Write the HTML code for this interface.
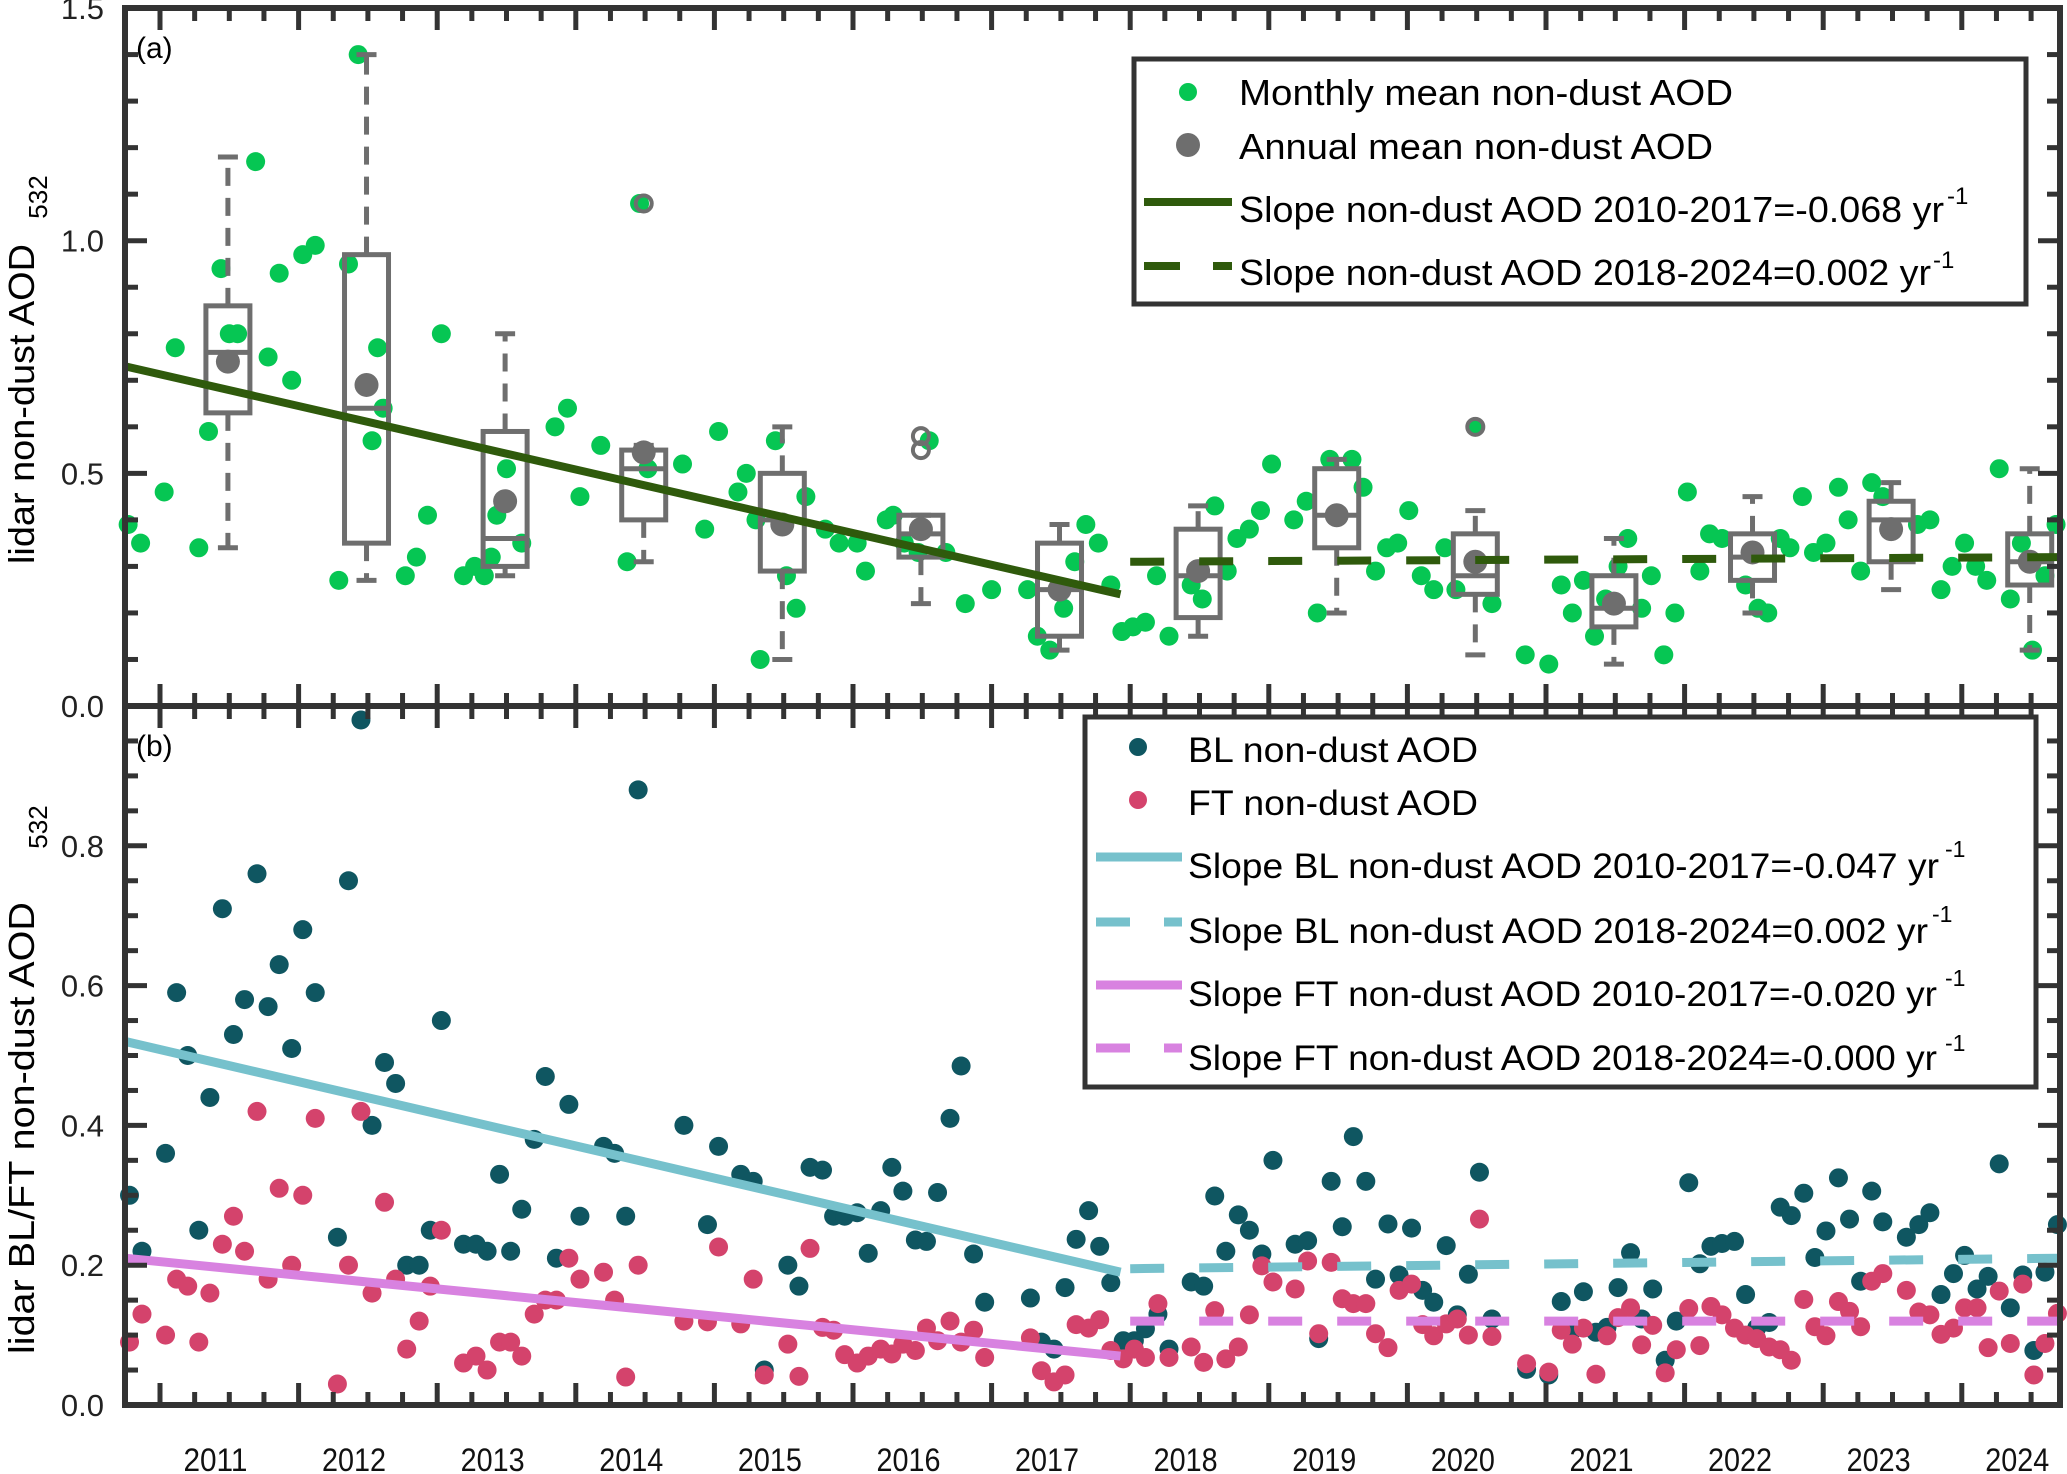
<!DOCTYPE html>
<html><head><meta charset="utf-8">
<style>
html,body{margin:0;padding:0;background:#fff;}
svg{display:block;font-family:"Liberation Sans",sans-serif;}
</style></head>
<body>
<svg id="chart" width="2067" height="1474" viewBox="0 0 2067 1474" xmlns="http://www.w3.org/2000/svg">
<rect x="0" y="0" width="2067" height="1474" fill="#fff"/>
<g id="plotA"></g>
<g id="plotB"></g>
<g id="axes"></g>

<text x="136" y="58" font-size="30">(a)</text>
<text x="136" y="756" font-size="30">(b)</text>

<g>
<text transform="translate(34,404) rotate(-90)" font-size="36" textLength="320" lengthAdjust="spacingAndGlyphs" text-anchor="middle">lidar non-dust AOD</text>
<text transform="translate(47,197) rotate(-90)" font-size="26" text-anchor="middle">532</text>
</g>
<g>
<text transform="translate(34,1128) rotate(-90)" font-size="36" textLength="452" lengthAdjust="spacingAndGlyphs" text-anchor="middle">lidar BL/FT non-dust AOD</text>
<text transform="translate(47,827) rotate(-90)" font-size="26" text-anchor="middle">532</text>
</g>

<g>
<rect x="1134" y="59" width="892" height="245" fill="#fff" stroke="#333" stroke-width="5"/>
<g>
<circle cx="1188" cy="92" r="9" fill="#06c653"/>
<text x="1239" y="105" font-size="36" textLength="494" lengthAdjust="spacingAndGlyphs">Monthly mean non-dust AOD</text></g>
<g>
<circle cx="1188" cy="145" r="12" fill="#6e6e6e"/>
<text x="1239" y="159" font-size="36" textLength="474" lengthAdjust="spacingAndGlyphs">Annual mean non-dust AOD</text></g>
<g>
<line x1="1144" y1="202" x2="1232" y2="202" stroke="#2f5a0c" stroke-width="8"/>
<text x="1239" y="222" font-size="36" textLength="705" lengthAdjust="spacingAndGlyphs">Slope non-dust AOD 2010-2017=-0.068 yr</text>
<text x="1947" y="204" font-size="24">-1</text></g>
<g>
<line x1="1144" y1="266" x2="1180" y2="266" stroke="#2f5a0c" stroke-width="8"/>
<line x1="1213" y1="266" x2="1232" y2="266" stroke="#2f5a0c" stroke-width="8"/>
<text x="1239" y="285" font-size="36" textLength="692" lengthAdjust="spacingAndGlyphs">Slope non-dust AOD 2018-2024=0.002 yr</text>
<text x="1933" y="268" font-size="24">-1</text></g>
</g>

<g>
<rect x="1085" y="717" width="951" height="370" fill="#fff" stroke="#333" stroke-width="5"/>
<g>
<circle cx="1138" cy="747" r="9" fill="#0f5661"/>
<text x="1188" y="762" font-size="35" textLength="290" lengthAdjust="spacingAndGlyphs">BL non-dust AOD</text></g>
<g>
<circle cx="1138" cy="800" r="9" fill="#d4436c"/>
<text x="1188" y="815" font-size="35" textLength="290" lengthAdjust="spacingAndGlyphs">FT non-dust AOD</text></g>
<g>
<line x1="1096" y1="857" x2="1182" y2="857" stroke="#76c1cc" stroke-width="9"/>
<text x="1188" y="878" font-size="35" textLength="751" lengthAdjust="spacingAndGlyphs">Slope BL non-dust AOD 2010-2017=-0.047 yr</text>
<text x="1945" y="857" font-size="23">-1</text></g>
<g>
<line x1="1096" y1="922" x2="1130" y2="922" stroke="#76c1cc" stroke-width="9"/>
<line x1="1164" y1="922" x2="1182" y2="922" stroke="#76c1cc" stroke-width="9"/>
<text x="1188" y="943" font-size="35" textLength="740" lengthAdjust="spacingAndGlyphs">Slope BL non-dust AOD 2018-2024=0.002 yr</text>
<text x="1932" y="922" font-size="23">-1</text></g>
<g>
<line x1="1096" y1="985" x2="1182" y2="985" stroke="#d882e0" stroke-width="9"/>
<text x="1188" y="1006" font-size="35" textLength="749" lengthAdjust="spacingAndGlyphs">Slope FT non-dust AOD 2010-2017=-0.020 yr</text>
<text x="1945" y="986" font-size="23">-1</text></g>
<g>
<line x1="1096" y1="1048" x2="1130" y2="1048" stroke="#d882e0" stroke-width="9"/>
<line x1="1164" y1="1048" x2="1182" y2="1048" stroke="#d882e0" stroke-width="9"/>
<text x="1188" y="1070" font-size="35" textLength="749" lengthAdjust="spacingAndGlyphs">Slope FT non-dust AOD 2018-2024=-0.000 yr</text>
<text x="1945" y="1051" font-size="23">-1</text></g>
</g>
</svg>
<script>
// ---- Panel (a) monthly mean non-dust AOD ----
const monthlyT = [2010.77,2010.86,2011.03,2011.11,2011.28,2011.35,2011.44,2011.50,2011.56,2011.69,2011.78,2011.86,2011.95,2012.03,2012.12,2012.29,2012.36,2012.43,2012.53,2012.57,2012.61,2012.77,2012.85,2012.93,2013.03,2013.19,2013.27,2013.34,2013.39,2013.43,2013.50,2013.61,2013.85,2013.94,2014.03,2014.18,2014.37,2014.46,2014.52,2014.77,2014.93,2015.03,2015.17,2015.23,2015.30,2015.33,2015.44,2015.52,2015.59,2015.66,2015.80,2015.90,2016.03,2016.09,2016.24,2016.29,2016.37,2016.47,2016.55,2016.67,2016.81,2017.00,2017.26,2017.33,2017.42,2017.52,2017.60,
2017.68,2017.77,2017.86,2017.94,2018.02,2018.11,2018.19,2018.28,2018.44,2018.52,2018.61,2018.70,2018.77,2018.86,2018.94,2019.02,2019.18,2019.27,2019.35,2019.44,2019.60,2019.68,2019.77,2019.85,2019.93,2020.01,2020.10,2020.19,2020.27,2020.35,2020.49,2020.61,2020.85,2021.02,2021.11,2021.19,2021.27,2021.35,2021.43,2021.52,2021.59,2021.69,2021.76,2021.85,2021.93,2022.02,2022.11,2022.18,2022.27,2022.44,2022.53,2022.60,2022.69,2022.76,2022.85,2022.93,2023.02,2023.11,2023.18,2023.27,2023.35,2023.43,2023.68,2023.77,2023.85,2023.93,2024.02,2024.10,2024.18,2024.27,2024.35,2024.43,2024.51,2024.60,2024.68];
const monthlyV = [0.39,0.35,0.46,0.77,0.34,0.59,0.94,0.80,0.80,1.17,0.75,0.93,0.70,0.97,0.99,0.27,0.95,1.40,0.57,0.77,0.64,0.28,0.32,0.41,0.80,0.28,0.30,0.28,0.32,0.41,0.51,0.35,0.60,0.64,0.45,0.56,0.31,1.08,0.51,0.52,0.38,0.59,0.46,0.50,0.40,0.10,0.57,0.28,0.21,0.45,0.38,0.35,0.35,0.29,0.40,0.41,0.35,0.33,0.57,0.33,0.22,0.25,0.25,0.15,0.12,0.21,0.31,
0.39,0.35,0.26,0.16,0.17,0.18,0.28,0.15,0.26,0.23,0.43,0.29,0.36,0.38,0.42,0.52,0.40,0.44,0.20,0.53,0.53,0.47,0.29,0.34,0.35,0.42,0.28,0.25,0.34,0.25,0.60,0.22,0.11,0.09,0.26,0.20,0.27,0.15,0.23,0.30,0.36,0.21,0.28,0.11,0.20,0.46,0.29,0.37,0.36,0.26,0.21,0.20,0.36,0.34,0.45,0.33,0.35,0.47,0.40,0.29,0.48,0.45,0.39,0.40,0.25,0.30,0.35,0.30,0.27,0.51,0.23,0.35,0.12,0.28,0.39];

// ---- Panel (a) annual box statistics ----
const boxYears = [2011,2012,2013,2014,2015,2016,2017,2018,2019,2020,2021,2022,2023,2024];
const boxLo   = [0.34,0.27,0.28,0.31,0.10,0.22,0.12,0.15,0.20,0.11,0.09,0.20,0.25,0.12];
const boxQ1   = [0.63,0.35,0.30,0.40,0.29,0.32,0.15,0.19,0.34,0.24,0.17,0.27,0.31,0.26];
const boxMed  = [0.76,0.64,0.36,0.51,0.40,0.37,0.25,0.28,0.41,0.28,0.21,0.32,0.40,0.31];
const boxQ3   = [0.86,0.97,0.59,0.55,0.50,0.41,0.35,0.38,0.51,0.37,0.28,0.37,0.44,0.37];
const boxHi   = [1.18,1.40,0.80,0.56,0.60,0.41,0.39,0.43,0.53,0.42,0.36,0.45,0.48,0.51];
const boxMean = [0.74,0.69,0.44,0.545,0.39,0.38,0.25,0.29,0.41,0.31,0.22,0.33,0.38,0.31];
const outlierT = [2014.49,2016.49,2016.49,2020.49];
const outlierV = [1.08,0.58,0.55,0.60];

// ---- Trend lines ----
const trendAT = [2010.75,2017.93];  const trendAV = [0.73,0.24];
const trendA2T = [2018.0,2024.7];   const trendA2V = [0.31,0.32];
const trendBLT = [2010.75,2017.93]; const trendBLV = [0.52,0.19];
const trendBL2T = [2018.0,2024.7];  const trendBL2V = [0.195,0.21];
const trendFTT = [2010.75,2017.93]; const trendFTV = [0.21,0.07];
const trendFT2T = [2018.0,2024.7];  const trendFT2V = [0.12,0.12];

// ---- Panel (b) BL / FT ----
const blT = [2010.78,2010.87,2011.04,2011.12,2011.20,2011.28,2011.36,2011.45,2011.53,2011.61,2011.70,2011.78,2011.86,2011.95,2012.03,2012.12,2012.28,2012.36,2012.45,2012.53,2012.62,2012.70,2012.78,2012.87,2012.95,2013.03,2013.19,2013.28,2013.36,2013.45,2013.53,2013.61,2013.70,2013.78,2013.86,2013.95,2014.03,2014.20,2014.28,2014.36,2014.45,2014.78,
2014.95,2015.03,2015.19,2015.28,2015.36,2015.53,2015.61,2015.69,2015.78,2015.86,2015.94,2016.03,2016.11,2016.20,2016.28,2016.36,2016.45,2016.53,2016.61,2016.70,2016.78,2016.87,2016.95,2017.28,2017.36,2017.45,2017.53,2017.61,2017.70,2017.78,2017.86,2017.95,2018.03,2018.11,2018.20,2018.28,2018.44,2018.53,2018.61,2018.69,2018.78,2018.86,2018.95,2019.03,2019.19,2019.28,2019.36,2019.45,2019.53,2019.61,2019.70,2019.77,
2019.86,2019.94,2020.03,2020.11,2020.19,2020.28,2020.36,2020.44,2020.52,2020.61,2020.86,2021.02,2021.11,2021.19,2021.27,2021.36,2021.44,2021.52,2021.61,2021.69,2021.77,2021.86,2021.94,2022.03,2022.11,2022.19,2022.27,2022.36,2022.44,2022.52,2022.61,2022.69,2022.77,2022.86,2022.94,2023.02,2023.11,2023.19,2023.27,2023.35,2023.43,2023.60,2023.69,2023.77,2023.85,2023.94,2024.02,2024.11,2024.19,2024.27,2024.35,2024.44,2024.52,2024.60,2024.69];
const blV = [0.30,0.22,0.36,0.59,0.50,0.25,0.44,0.71,0.53,0.58,0.76,0.57,0.63,0.51,0.68,0.59,0.24,0.75,0.98,0.40,0.49,0.46,0.20,0.20,0.25,0.55,0.23,0.23,0.22,0.33,0.22,0.28,0.38,0.47,0.21,0.43,0.27,0.37,0.36,0.27,0.88,0.40,
0.258,0.37,0.33,0.32,0.05,0.20,0.17,0.34,0.336,0.27,0.27,0.275,0.217,0.278,0.34,0.306,0.236,0.234,0.304,0.41,0.485,0.216,0.147,0.153,0.09,0.08,0.168,0.237,0.278,0.227,0.175,0.092,0.092,0.109,0.13,0.08,0.176,0.17,0.299,0.22,0.272,0.25,0.216,0.35,0.23,0.235,0.095,0.32,0.255,0.384,0.32,0.18,
0.259,0.186,0.253,0.164,0.147,0.228,0.129,0.187,0.333,0.123,0.051,0.043,0.148,0.107,0.162,0.104,0.111,0.168,0.218,0.123,0.166,0.064,0.12,0.318,0.202,0.227,0.231,0.234,0.158,0.110,0.118,0.283,0.271,0.303,0.211,0.249,0.325,0.266,0.177,0.306,0.262,0.24,0.258,0.275,0.158,0.188,0.214,0.166,0.184,0.345,0.139,0.186,0.078,0.19,0.258];
const ftT = blT;
const ftV = [0.09,0.13,0.10,0.18,0.17,0.09,0.16,0.23,0.27,0.22,0.42,0.18,0.31,0.20,0.30,0.41,0.03,0.20,0.42,0.16,0.29,0.18,0.08,0.12,0.17,0.25,0.06,0.07,0.05,0.09,0.09,0.07,0.13,0.15,0.15,0.21,0.18,0.19,0.15,0.04,0.20,0.12,
0.119,0.226,0.116,0.18,0.043,0.087,0.041,0.224,0.111,0.107,0.072,0.06,0.07,0.08,0.073,0.087,0.078,0.11,0.092,0.12,0.09,0.107,0.068,0.096,0.049,0.033,0.043,0.115,0.11,0.122,0.078,0.066,0.08,0.068,0.145,0.068,0.083,0.061,0.135,0.066,0.083,0.129,0.199,0.176,0.166,0.206,0.102,0.204,0.152,0.145,0.145,0.102,
0.082,0.164,0.173,0.115,0.099,0.116,0.123,0.10,0.266,0.098,0.059,0.047,0.107,0.087,0.11,0.044,0.099,0.125,0.139,0.086,0.114,0.046,0.079,0.138,0.085,0.141,0.129,0.11,0.10,0.095,0.083,0.079,0.064,0.151,0.112,0.099,0.148,0.134,0.112,0.177,0.188,0.164,0.133,0.129,0.101,0.11,0.139,0.139,0.082,0.163,0.088,0.173,0.043,0.088,0.131];

// ---- Axis ticks ----
const yTicksA = ["0.0","0.5","1.0","1.5"];
const yTicksB = ["0.0","0.2","0.4","0.6","0.8"];
const xYears = [2011,2012,2013,2014,2015,2016,2017,2018,2019,2020,2021,2022,2023,2024];

const NS = "http://www.w3.org/2000/svg";
const L = 125, R = 2060, TA = 8, BA = 706, TB = 706, BB = 1405;
const xS = t => 160 + (t - 2011) * 138.6;
const yA = v => BA - v * 465.3;
const yB = v => BB - v * 699;
function mk(tag, attrs, parent){ const e=document.createElementNS(NS,tag); for(const k in attrs) e.setAttribute(k,attrs[k]); parent.appendChild(e); return e; }
const gA = document.getElementById('plotA'), gB = document.getElementById('plotB'), gX = document.getElementById('axes');

// panel a monthly dots
monthlyT.forEach((t,i)=>{
  const c = mk('circle',{cx:xS(t),cy:yA(monthlyV[i]),r:9.5,fill:'#06c653'},gA);
  
  
});
// boxes
const gray = '#6e6e6e';
boxYears.forEach((yr,i)=>{
  const cx = xS(yr+0.49), hw = 22, cw = 10;
  const g = mk('g',{},gA);
  
  
  mk('line',{x1:cx,x2:cx,y1:yA(boxQ3[i]),y2:yA(boxHi[i]),stroke:gray,'stroke-width':5,'stroke-dasharray':'18 12'},g);
  mk('line',{x1:cx,x2:cx,y1:yA(boxQ1[i]),y2:yA(boxLo[i]),stroke:gray,'stroke-width':5,'stroke-dasharray':'18 12'},g);
  mk('line',{x1:cx-cw,x2:cx+cw,y1:yA(boxHi[i]),y2:yA(boxHi[i]),stroke:gray,'stroke-width':5},g);
  mk('line',{x1:cx-cw,x2:cx+cw,y1:yA(boxLo[i]),y2:yA(boxLo[i]),stroke:gray,'stroke-width':5},g);
  mk('rect',{x:cx-hw,y:yA(boxQ3[i]),width:2*hw,height:yA(boxQ1[i])-yA(boxQ3[i]),fill:'none',stroke:gray,'stroke-width':5},g);
  mk('line',{x1:cx-hw,x2:cx+hw,y1:yA(boxMed[i]),y2:yA(boxMed[i]),stroke:gray,'stroke-width':5},g);
  const m = mk('circle',{cx:cx,cy:yA(boxMean[i]),r:12,fill:gray},g);
  
  
});
outlierT.forEach((t,i)=>{
  const o = mk('circle',{cx:xS(t),cy:yA(outlierV[i]),r:8,fill:'none',stroke:gray,'stroke-width':4},gA);
  
  
});
function trend(g, T, V, ys, color, w, dashed, name){
  const l = mk('line',{x1:xS(T[0]),y1:ys(V[0]),x2:xS(T[1]),y2:ys(V[1]),stroke:color,'stroke-width':w},g);
  if(dashed) l.setAttribute('stroke-dasharray','34 35');
  
  
}
trend(gA,trendAT,trendAV,yA,'#2f5a0c',8,false,'trend-2010-2017');
trend(gA,trendA2T,trendA2V,yA,'#2f5a0c',8,true,'trend-2018-2024');

// panel b
blT.forEach((t,i)=>{
  const c = mk('circle',{cx:xS(t),cy:yB(blV[i]),r:9.5,fill:'#0f5661'},gB);
  
  
});
ftT.forEach((t,i)=>{
  const c = mk('circle',{cx:xS(t),cy:yB(ftV[i]),r:9.5,fill:'#d4436c'},gB);
  
  
});
trend(gB,trendBLT,trendBLV,yB,'#76c1cc',9,false,'bl-trend-2010-2017');
trend(gB,trendBL2T,trendBL2V,yB,'#76c1cc',9,true,'bl-trend-2018-2024');
trend(gB,trendFTT,trendFTV,yB,'#d882e0',9,false,'ft-trend-2010-2017');
trend(gB,trendFT2T,trendFT2V,yB,'#d882e0',9,true,'ft-trend-2018-2024');

// axes frames
const ax = '#333';
[[TA,BA],[TB,BB]].forEach(([t,b],k)=>{
  const r = mk('rect',{x:L,y:t,width:R-L,height:b-t,fill:'none',stroke:ax,'stroke-width':6},gX);
  
  
});
// x ticks
for(let q=0;q<=56;q++){
  const t = 2010.75 + q*0.25; const x = xS(t);
  if(x < L+2 || x > R-2) continue;
  const major = Math.abs(t-Math.round(t))<1e-6; const len = major?22:13;
  [[TA,1],[BA,-1],[TB,1],[BB,-1]].forEach(([y0,d])=>mk('line',{x1:x,x2:x,y1:y0,y2:y0+d*len,stroke:ax,'stroke-width':5},gX));
}
// y ticks
for(let k=0;k<=15;k++){ const v=k*0.1, y=yA(v), len=(k%5===0)?22:13;
  mk('line',{x1:L,x2:L+len,y1:y,y2:y,stroke:ax,'stroke-width':5},gX);
  mk('line',{x1:R,x2:R-len,y1:y,y2:y,stroke:ax,'stroke-width':5},gX); }
for(let k=0;k<=20;k++){ const v=k*0.05, y=yB(v), len=(k%4===0)?22:13;
  mk('line',{x1:L,x2:L+len,y1:y,y2:y,stroke:ax,'stroke-width':5},gX);
  mk('line',{x1:R,x2:R-len,y1:y,y2:y,stroke:ax,'stroke-width':5},gX); }
// tick labels
yTicksA.forEach(s=>{ const t=mk('text',{x:104,y:yA(parseFloat(s))+11,'font-size':31,'text-anchor':'end',fill:'#222'},gX); t.textContent=s;
  
   });
yTicksB.forEach(s=>{ const t=mk('text',{x:104,y:yB(parseFloat(s))+11,'font-size':31,'text-anchor':'end',fill:'#222'},gX); t.textContent=s;
  
   });
xYears.forEach(yr=>{ const t=mk('text',{x:xS(yr+0.4),y:1471,'font-size':32,'text-anchor':'middle',textLength:64,lengthAdjust:'spacingAndGlyphs',fill:'#111'},gX); t.textContent=String(yr);
  
   });
</script>
</body></html>
